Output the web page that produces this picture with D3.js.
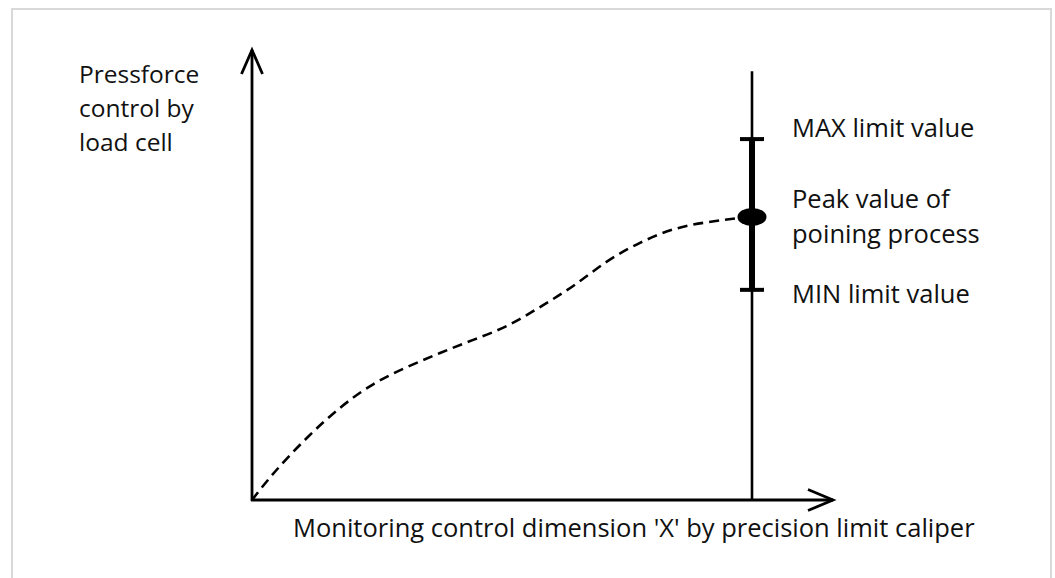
<!DOCTYPE html>
<html>
<head>
<meta charset="utf-8">
<script src="https://cdn.jsdelivr.net/npm/d3@7"></script>
<style>
  body { margin: 0; background: #fff; }
  text { font-family: "Open Sans", sans-serif; fill: #111; }
</style>
</head>
<body>
<svg></svg>
<script>
// curve of the pressing process (x = stroke, y = force), in % of the axis
const curveX = [0, 4.2, 11, 17.6, 24.2, 31, 37.6, 44.2, 51, 57.6, 64.2, 71, 77.6, 84.2, 91, 97.6];
const curveY = [0, 6, 14, 20.7, 26, 29.6, 32.7, 35.6, 38.4, 42.9, 47.3, 53.3, 57.3, 60.4, 61.8, 62.7];

const peak = { x: 100, y: 62.9 };
const limits = [
    { name: "MAX", value: 80.2 },
    { name: "MIN", value: 46.7 }
];
const gateTop = 95.3;
const xAxisEnd = 116.2;
const yAxisEnd = 100;

const yLabel = ["Pressforce", "control by", "load cell"];
const xLabel = "Monitoring control dimension 'X' by precision limit caliper";
const limitLabels = [
    { lines: ["MAX limit value"], value: 80.6 },
    { lines: ["Peak value of", "poining process"], value: 64.9 },
    { lines: ["MIN limit value"], value: 43.8 }
];

const width = 1055;
const height = 578;
const svg = d3.select("svg")
    .attr("width", width)
    .attr("height", height);

const x = d3.scaleLinear().domain([0, 100]).range([252, 752]);
const y = d3.scaleLinear().domain([0, 100]).range([500, 50]);

// light frame around the figure
svg.append("path")
    .attr("d", `M12,${height + 5} V9 H1051 V${height + 5}`)
    .attr("fill", "none")
    .attr("stroke", "#d9d9d9")
    .attr("stroke-width", 2);

// axes with open arrow heads
svg.append("line")
    .attr("x1", x(0)).attr("x2", x(0))
    .attr("y1", y(0) + 1).attr("y2", y(yAxisEnd))
    .attr("stroke", "#000").attr("stroke-width", 2.8);

svg.append("path")
    .attr("d", `M${x(0) - 10.5},${y(yAxisEnd) + 24} L${x(0)},${y(yAxisEnd)} L${x(0) + 10.5},${y(yAxisEnd) + 24}`)
    .attr("fill", "none").attr("stroke", "#000").attr("stroke-width", 2.8);

svg.append("line")
    .attr("x1", x(0) - 1).attr("x2", x(xAxisEnd))
    .attr("y1", y(0)).attr("y2", y(0))
    .attr("stroke", "#000").attr("stroke-width", 2.8);

svg.append("path")
    .attr("d", `M${x(xAxisEnd) - 25},${y(0) - 10.5} L${x(xAxisEnd)},${y(0)} L${x(xAxisEnd) - 25},${y(0) + 10.5}`)
    .attr("fill", "none").attr("stroke", "#000").attr("stroke-width", 2.8);

// dashed process curve
const pts = curveX.map((d, i) => [d, curveY[i]]);
pts.push([peak.x, peak.y]);

svg.append("path")
    .datum(pts)
    .attr("d", d3.line().x(d => x(d[0])).y(d => y(d[1])).curve(d3.curveBasis))
    .attr("fill", "none")
    .attr("stroke", "#000")
    .attr("stroke-width", 2.6)
    .attr("stroke-dasharray", "10,6");

// vertical gate line
svg.append("line")
    .attr("x1", x(100)).attr("x2", x(100))
    .attr("y1", y(gateTop)).attr("y2", y(0))
    .attr("stroke", "#000").attr("stroke-width", 2.6);

const maxV = d3.max(limits, d => d.value);
const minV = d3.min(limits, d => d.value);

svg.append("line")
    .attr("x1", x(100)).attr("x2", x(100))
    .attr("y1", y(maxV)).attr("y2", y(minV))
    .attr("stroke", "#000").attr("stroke-width", 6);

svg.selectAll(".tick-limit")
    .data(limits)
    .join("line")
    .attr("class", "tick-limit")
    .attr("x1", x(100) - 12).attr("x2", x(100) + 12)
    .attr("y1", d => y(d.value)).attr("y2", d => y(d.value))
    .attr("stroke", "#000").attr("stroke-width", 4);

svg.append("ellipse")
    .attr("cx", x(peak.x)).attr("cy", y(peak.y))
    .attr("rx", 14.5).attr("ry", 9)
    .attr("fill", "#000");

// labels
const fs = 25.5;

svg.append("text")
    .attr("x", 79).attr("y", 83)
    .style("font-size", "24.5px")
    .selectAll("tspan")
    .data(yLabel)
    .join("tspan")
    .attr("x", 79)
    .attr("dy", (d, i) => i === 0 ? 0 : 34)
    .text(d => d);

limitLabels.forEach(l => {
    svg.append("text")
        .attr("x", 792).attr("y", y(l.value))
        .style("font-size", fs + "px")
        .selectAll("tspan")
        .data(l.lines)
        .join("tspan")
        .attr("x", 792)
        .attr("dy", (d, i) => i === 0 ? 0 : 35)
        .text(d => d);
});

svg.append("text")
    .attr("x", 293).attr("y", 537)
    .style("font-size", fs + "px")
    .text(xLabel);
</script>
</body>
</html>
